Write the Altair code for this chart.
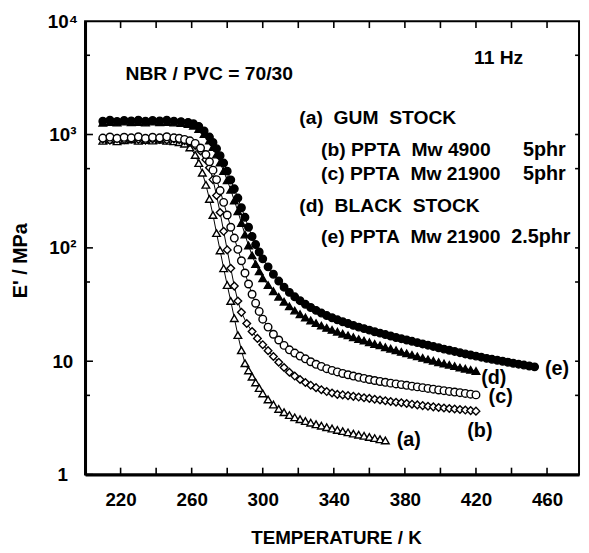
import altair as alt
import pandas as pd

# ---- data (T in K, E' in MPa) ----
T_a = [210,214,218,222,226,230,234,238,242,246,250,253,256,259,262,264,266,268,270,272,274,276,278,280,282,284,286,288,290,292,294,296,298,300,
       303,306,309,312,315,318,321,324,327,330,333,336,339,342,345,348,351,354,357,360,363,366,369]
E_a = [880,900,870,890,905,880,895,885,900,880,870,855,830,770,660,560,460,360,270,195,135,95,66,47,34,24,17,12.5,9.6,8.3,7.3,6.5,5.8,5.2,
       4.6,4.15,3.8,3.55,3.35,3.2,3.08,2.97,2.87,2.78,2.7,2.62,2.55,2.48,2.42,2.36,2.3,2.25,2.2,2.15,2.1,2.05,2.0]

T_b = [210,214,218,222,226,230,234,238,242,246,250,253,256,259,262,265,268,270,272,274,276,278,280,282,284,286,288,
       291,294,297,300,303,306,309,312,315,318,321,324,327,330,333,336,339,342,345,348,351,354,357,360,363,366,369,372,
       375,378,381,384,387,390,393,396,399,402,405,408,411,414,417,420]
E_b = [910,890,920,900,915,905,890,915,905,895,915,900,880,850,800,715,600,510,400,290,205,140,96,66,46,34,27,
       21.5,18.3,15.9,14,12.4,11,9.8,8.8,8.0,7.4,6.9,6.5,6.15,5.85,5.6,5.4,5.25,5.1,5.05,4.97,4.9,4.83,4.76,4.7,4.62,4.55,4.48,4.41,
       4.35,4.3,4.24,4.18,4.12,4.06,4.01,3.96,3.91,3.87,3.83,3.79,3.75,3.71,3.67,3.63]

T_c = [210,214,218,222,226,230,234,238,242,246,250,253,256,259,262,265,268,270,272,274,276,278,280,282,284,286,288,290,292,294,296,298,
       300,303,306,309,312,315,318,321,324,327,330,333,336,339,342,345,348,351,354,357,360,363,366,369,372,375,378,381,384,387,390,
       393,396,399,402,405,408,411,414,417,420]
E_c = [930,950,925,945,935,955,925,945,935,955,935,925,905,880,835,760,665,575,485,400,320,252,195,152,122,97,77,60,48,39,32.5,27.5,
       23.5,20,17.3,15.4,13.8,12.6,11.8,11.1,10.5,9.9,9.4,9.0,8.6,8.3,8.05,7.8,7.6,7.4,7.22,7.05,6.9,6.76,6.63,6.52,6.41,6.31,6.22,6.13,6.03,5.94,5.85,
       5.76,5.67,5.58,5.5,5.42,5.35,5.28,5.2,5.12,5.05]

T_d = [210,214,218,222,226,230,234,238,242,246,250,254,258,261,264,267,270,272,274,276,278,280,282,284,286,288,290,292,294,296,298,
       300,303,306,309,312,315,318,321,324,327,330,333,336,339,342,345,348,351,354,357,360,363,366,369,372,375,378,381,384,387,390,
       393,396,399,402,405,408,411,414,417,420]
E_d = [1270,1290,1275,1300,1285,1290,1275,1300,1285,1290,1275,1265,1240,1195,1120,1010,885,775,665,565,475,395,325,262,210,166,131,105,86,72,62,
       54,47,41.5,37,33.5,30.5,28,26,24.3,22.9,21.7,20.6,19.7,18.9,18.2,17.5,16.9,16.3,15.7,15.2,14.7,14.2,13.8,13.3,12.9,12.5,12.1,11.75,11.4,11.05,10.7,
       10.4,10.1,9.8,9.55,9.3,9.05,8.8,8.6,8.4,8.2]

T_e = [210,214,218,222,226,230,234,238,242,246,250,254,258,261,264,267,270,272,274,276,278,280,282,284,286,288,290,292,294,296,298,
       300,303,306,309,312,315,318,321,324,327,330,333,336,339,342,345,348,351,354,357,360,363,366,369,372,375,378,381,384,387,390,
       393,396,399,402,405,408,411,414,417,420,423,426,429,432,435,438,441,444,447,450,453]
E_e = [1310,1340,1305,1330,1320,1340,1310,1330,1320,1340,1310,1300,1280,1245,1180,1075,950,850,750,650,560,475,398,332,275,226,186,152,126,107,92,
       80,68,58.5,51,45,40.5,37,34.2,31.8,29.8,28.1,26.6,25.3,24.2,23.2,22.3,21.5,20.7,20,19.4,18.8,18.2,17.7,17.2,16.7,16.2,15.8,15.4,15,14.6,14.2,
       13.85,13.5,13.15,12.8,12.5,12.2,11.9,11.6,11.35,11.1,10.85,10.6,10.4,10.2,10,9.8,9.6,9.42,9.25,9.08,8.92]

series_names = ["a", "b", "c", "d", "e"]
series_T = [T_a, T_b, T_c, T_d, T_e]
series_E = [E_a, E_b, E_c, E_d, E_e]
shapes = ["triangle-up", "diamond", "circle", "triangle-up", "circle"]
fills = ["white", "white", "white", "black", "black"]
sizes = [60, 58, 46, 60, 55]

x_ticks = [220, 240, 260, 280, 300, 320, 340, 360, 380, 400, 420, 440, 460]
x_labels = [220, 260, 300, 340, 380, 420, 460]
y_major = [1, 10, 100, 1000]
y_minor = [5, 50, 500, 5000]
y_right = [5, 10, 50, 100, 500, 1000, 5000]
y_labels = [1, 10, 100, 1000, 10000]

# annotations (data coordinates)
ann_left_T = [222.8, 418.9, 320.6, 332.8, 332.8, 320.6, 332.8]
ann_left_E = [3380, 4760, 1400, 736, 446, 234, 123.4]
ann_left_txt = ["NBR / PVC = 70/30", "11 Hz", "(a)\u00a0 GUM\u00a0 STOCK",
                "(b) PPTA\u00a0 Mw 4900", "(c) PPTA\u00a0 Mw 21900",
                "(d)\u00a0 BLACK\u00a0 STOCK", "(e) PPTA\u00a0 Mw 21900"]
ann_right_T = [458.5, 458.5, 456.5]
ann_right_E = [736, 446, 123.4]
ann_right_txt = ["5phr", "5phr", "2.5phr"]
curve_lab_T = [382.2, 422.2, 433.9, 430.0, 465.6]
curve_lab_E = [2.02, 2.42, 4.79, 7.14, 8.55]
curve_lab_txt = ["(a)", "(b)", "(c)", "(d)", "(e)"]

rows = []
for n, ts, es in zip(series_names, series_T, series_E):
    for t, e in zip(ts, es):
        rows.append({"series": n, "T": t, "E": e})
df = pd.DataFrame(rows)

FONT = "Liberation Sans"
W, H = 500, 459

xscale = alt.Scale(domain=[200, 478], nice=False, zero=False)
yscale = alt.Scale(type="log", domain=[1, 10000], nice=False)

xaxis = alt.Axis(values=x_labels, ticks=False, grid=False, domain=True, domainWidth=3,
                 domainColor="black", labelFont=FONT, labelFontSize=19, labelFontWeight="bold",
                 labelColor="black", labelPadding=16, labelFlush=False, labelOverlap=False,
                 title="TEMPERATURE / K", titleFont=FONT, titleFontSize=19, titleFontWeight="bold",
                 titleColor="black", titleX=254, titleY=70, titleAlign="center",
                 titleBaseline="alphabetic")
yaxis = alt.Axis(values=y_labels, ticks=False, grid=False, domain=True, domainWidth=3,
                 domainColor="black", labelFont=FONT, labelFontSize=19, labelFontWeight="bold",
                 labelColor="black", labelPadding=23, labelAlign="center", labelBaseline="middle",
                 labelFlush=False, labelOverlap=False,
                 labelExpr="datum.value == 10000 ? '10\u2074' : datum.value == 1000 ? '10\u00b3' : datum.value == 100 ? '10\u00b2' : datum.value == 10 ? '10' : '1'",
                 title="E' / MPa", titleFont=FONT, titleFontSize=20, titleFontWeight="bold",
                 titleColor="black", titleX=-59, titleY=242, titleAngle=270, titleAlign="center",
                 titleBaseline="alphabetic")

def X(f):
    return alt.X(f, type="quantitative", scale=xscale, axis=xaxis)

def Y(f):
    return alt.Y(f, type="quantitative", scale=yscale, axis=yaxis)

base = alt.Chart(df)
lines = base.mark_line(color="black", strokeWidth=1).encode(
    x=X("T"), y=Y("E"), detail="series:N", order="T:Q")
points = base.mark_point(filled=True, stroke="black", strokeWidth=1.4, opacity=1).encode(
    x=X("T"), y=Y("E"),
    shape=alt.Shape("series:N", scale=alt.Scale(domain=series_names, range=shapes), legend=None),
    fill=alt.Fill("series:N", scale=alt.Scale(domain=series_names, range=fills), legend=None),
    size=alt.Size("series:N", scale=alt.Scale(domain=series_names, range=sizes), legend=None),
)

xt = alt.Chart(pd.DataFrame({"T": x_ticks}))
bottom_ticks = xt.mark_rule(color="black", strokeWidth=1.6).encode(x=X("T"), y=alt.value(H), y2=alt.value(H - 7))
top_ticks = xt.mark_rule(color="black", strokeWidth=1.6).encode(x=X("T"), y=alt.value(0), y2=alt.value(7))
left_major = alt.Chart(pd.DataFrame({"v": y_major})).mark_rule(color="black", strokeWidth=1.6).encode(
    y=Y("v"), x=alt.value(0), x2=alt.value(8))
left_minor = alt.Chart(pd.DataFrame({"v": y_minor})).mark_rule(color="black", strokeWidth=1.6).encode(
    y=Y("v"), x=alt.value(0), x2=alt.value(5))
right_ticks = alt.Chart(pd.DataFrame({"v": y_right})).mark_rule(color="black", strokeWidth=1.6).encode(
    y=Y("v"), x=alt.value(W), x2=alt.value(W - 4))

ann_df = pd.DataFrame({"T": ann_left_T, "E": ann_left_E, "txt": ann_left_txt})
ann = alt.Chart(ann_df).mark_text(align="left", baseline="middle", font=FONT, fontSize=19.5,
                                  fontWeight="bold", color="black").encode(x=X("T"), y=Y("E"), text="txt:N")
annr_df = pd.DataFrame({"T": ann_right_T, "E": ann_right_E, "txt": ann_right_txt})
annr = alt.Chart(annr_df).mark_text(align="center", baseline="middle", font=FONT, fontSize=20,
                                    fontWeight="bold", color="black").encode(x=X("T"), y=Y("E"), text="txt:N")
lab_df = pd.DataFrame({"T": curve_lab_T, "E": curve_lab_E, "txt": curve_lab_txt})
labs = alt.Chart(lab_df).mark_text(align="center", baseline="middle", font=FONT, fontSize=20,
                                   fontWeight="bold", color="black").encode(x=X("T"), y=Y("E"), text="txt:N")

chart = alt.layer(lines, points, bottom_ticks, top_ticks, left_major, left_minor, right_ticks, ann, annr, labs).properties(
    width=W, height=H,
    autosize=alt.AutoSizeParams(type="none"),
    padding={"left": 78, "top": 10, "right": 2, "bottom": 72},
    background="white",
).configure_view(stroke="black", strokeWidth=2)

chart.save("out.html", embed_options={"renderer": "svg", "actions": False})
